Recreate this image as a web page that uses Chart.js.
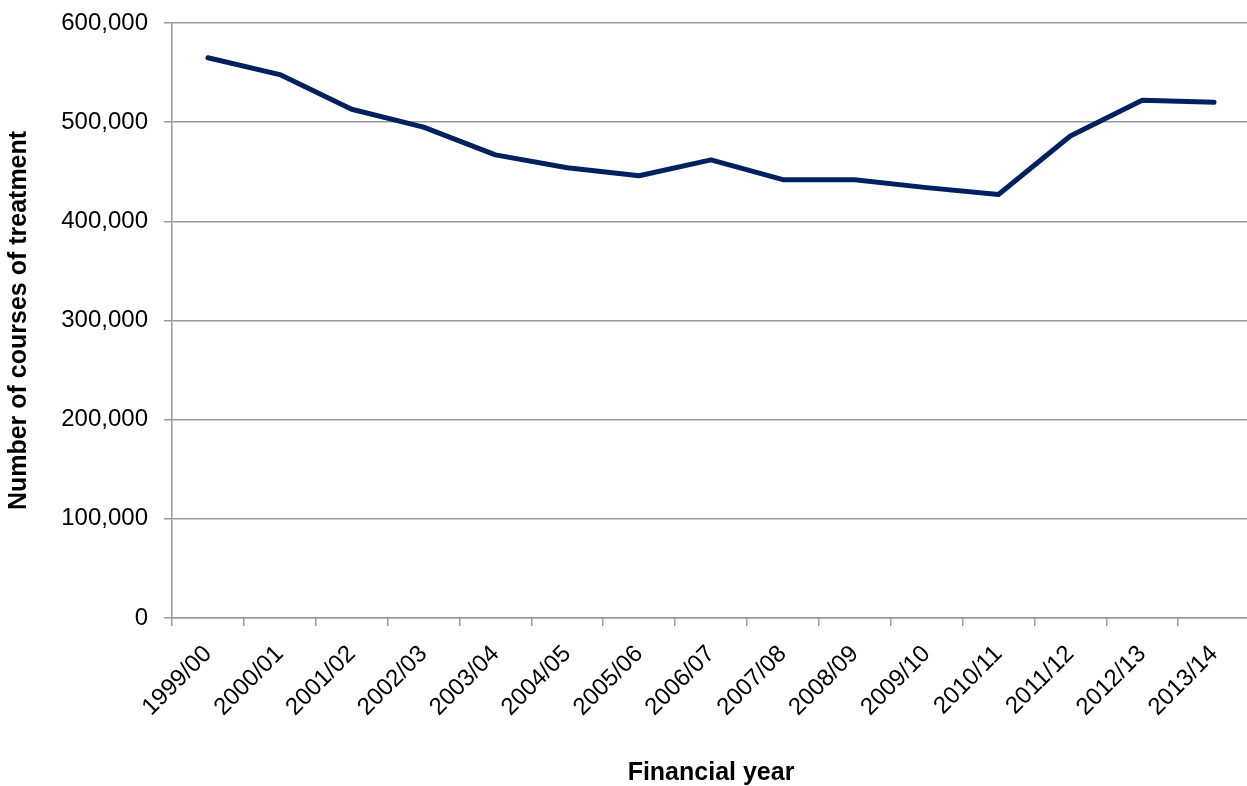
<!DOCTYPE html>
<html>
<head>
<meta charset="utf-8">
<script src="https://cdn.jsdelivr.net/npm/chart.js@4/dist/chart.umd.min.js"></script>
<style>
  html, body { margin: 0; padding: 0; background: #fff; overflow: hidden; }
  #wrap { width: 1250px; height: 786px; }
</style>
</head>
<body>
<div id="wrap"><canvas id="c" width="1250" height="786"></canvas></div>
<script>
const categories = ['1999/00','2000/01','2001/02','2002/03','2003/04','2004/05','2005/06','2006/07','2007/08','2008/09','2009/10','2010/11','2011/12','2012/13','2013/14'];
const courses = [565000, 548000, 513000, 495000, 467000, 454000, 446000, 462000, 442000, 442000, 434000, 427000, 486000, 522000, 520000];
const yTickValues = [0, 100000, 200000, 300000, 400000, 500000, 600000];
const yTickLabels = ['0', '100,000', '200,000', '300,000', '400,000', '500,000', '600,000'];

Chart.defaults.font.family = "'Liberation Sans', Arial, sans-serif";
Chart.defaults.color = '#000';

new Chart(document.getElementById('c'), {
  type: 'line',
  data: {
    labels: categories,
    datasets: [{
      data: courses,
      borderColor: '#002060',
      borderWidth: 5,
      borderCapStyle: 'round',
      borderJoinStyle: 'round',
      pointRadius: 0,
      tension: 0,
      fill: false
    }]
  },
  options: {
    responsive: false,
    animation: false,
    layout: { padding: { top: 23, left: 0, right: 0, bottom: 0 } },
    plugins: { legend: { display: false }, tooltip: { enabled: false } },
    scales: {
      x: {
        offset: true,
        grid: { offset: true, drawOnChartArea: false, drawTicks: true, tickLength: 8, color: '#999', lineWidth: 1.5 },
        border: { color: '#999', width: 1.5 },
        ticks: { autoSkip: false, maxRotation: 45, minRotation: 45, padding: 14, font: { size: 24 }, color: '#000' },
        title: { display: true, text: 'Financial year', font: { size: 25, weight: 'bold', lineHeight: 1.0 }, color: '#000', padding: { top: 0, bottom: 0 } },
        afterFit: s => { s.height = 168; s.paddingLeft = 0; s.paddingRight = 0; }
      },
      y: {
        min: 0,
        max: 600000,
        afterBuildTicks: s => { s.ticks = yTickValues.map(v => ({ value: v })); },
        ticks: { callback: (v, i) => yTickLabels[i], padding: 16, font: { size: 24 }, color: '#000' },
        grid: { color: '#999', lineWidth: 1.5, tickLength: 8 },
        border: { color: '#999', width: 1.5 },
        title: { display: true, text: 'Number of courses of treatment', font: { size: 25, weight: 'bold' }, color: '#000', padding: { top: 4.5, bottom: 0 } },
        afterFit: s => { s.width = 172; s.paddingTop = 0; s.paddingBottom = 0; }
      }
    }
  }
});
</script>
</body>
</html>
